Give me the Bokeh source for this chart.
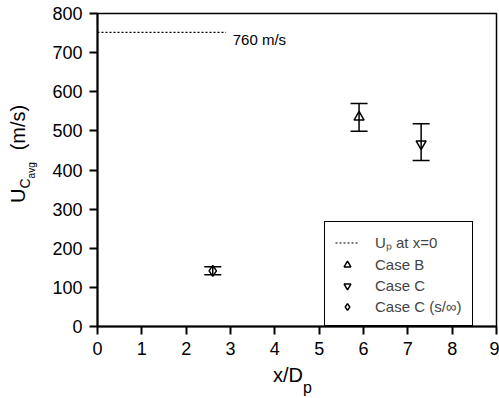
import math
from bokeh.plotting import figure
from bokeh.models import (ColumnDataSource, Whisker, TeeHead, Legend, LegendItem,
                          Label, FixedTicker, Range1d, Div, Row, Column)
from bokeh.embed import file_html
from bokeh.resources import INLINE

# ---- data ----
case_b_x = [5.9]
case_b_y = [535]
case_b_lo = [499]
case_b_hi = [570]

case_c_x = [7.3]
case_c_y = [467]
case_c_lo = [424]
case_c_hi = [518]

case_cs_x = [2.6]
case_cs_y = [142]
case_cs_lo = [132]
case_cs_hi = [153]

up_x = [0.0, 2.9]
up_y = [752, 752]
up_label = "760 m/s"

x_ticks = [0, 1, 2, 3, 4, 5, 6, 7, 8, 9]
y_ticks = [0, 100, 200, 300, 400, 500, 600, 700, 800]

FONT = "Liberation Sans"

p = figure(width=459, height=364, output_backend="svg", toolbar_location=None,
           x_range=Range1d(0, 9), y_range=Range1d(0, 800),
           min_border_left=57, min_border_right=3, min_border_top=13,
           min_border_bottom=38, margin=0)
p.grid.visible = False
p.outline_line_color = "black"
p.outline_line_width = 1.5
p.outline_line_alpha = 1.0
p.background_fill_color = "white"
p.border_fill_color = "white"

for ax in (p.xaxis[0], p.yaxis[0]):
    ax.axis_line_width = 2
    ax.major_tick_line_width = 2
    ax.major_tick_out = 8
    ax.major_tick_in = 0
    ax.minor_tick_line_color = None
    ax.major_label_text_font = FONT
    ax.major_label_text_font_size = "18px"
    ax.major_label_text_color = "black"
    ax.axis_line_color = "black"
    ax.major_tick_line_color = "black"
p.xaxis[0].ticker = FixedTicker(ticks=x_ticks)
p.yaxis[0].ticker = FixedTicker(ticks=y_ticks)
p.xaxis[0].major_label_standoff = 7
p.yaxis[0].major_label_standoff = 7

# reference line
line_r = p.line(up_x, up_y, line_color="black", line_width=1.2, line_dash="2 2")
p.add_layout(Label(x=3.05, y=733, text=up_label, text_font=FONT, text_font_size="15px",
                   text_baseline="middle", text_align="left", text_color="black"))

# error bars
def add_err(xs, lo, hi):
    src = ColumnDataSource(dict(x=xs, lo=lo, hi=hi))
    w = Whisker(base="x", lower="lo", upper="hi", source=src, dimension="height",
                line_color="black", line_width=1.5,
                upper_head=TeeHead(size=17, line_color="black", line_width=1.5),
                lower_head=TeeHead(size=17, line_color="black", line_width=1.5))
    p.add_layout(w)

add_err(case_b_x, case_b_lo, case_b_hi)
add_err(case_c_x, case_c_lo, case_c_hi)
add_err(case_cs_x, case_cs_lo, case_cs_hi)

r_b = p.scatter(case_b_x, case_b_y, marker="triangle", size=10, fill_color=None,
                line_color="black", line_width=1.5)
r_c = p.scatter(case_c_x, case_c_y, marker="inverted_triangle", size=10, fill_color=None,
                line_color="black", line_width=1.5)
r_cs = p.scatter(case_cs_x, case_cs_y, marker="diamond", size=11,
                 fill_color=None, line_color="black", line_width=1.5)

legend = Legend(items=[
    LegendItem(label="U\u209a at x=0", renderers=[line_r]),
    LegendItem(label="Case B", renderers=[r_b]),
    LegendItem(label="Case C", renderers=[r_c]),
    LegendItem(label="Case C (s/\u221e)", renderers=[r_cs]),
], location=(227, 0))
legend.label_text_font = FONT
legend.label_text_font_size = "15px"
legend.label_height = 17
legend.glyph_height = 17
legend.glyph_width = 24
legend.label_standoff = 16
legend.spacing = 4
legend.padding = 10
legend.margin = 0
legend.border_line_color = "black"
legend.border_line_width = 1.5
legend.border_line_alpha = 1.0
legend.background_fill_color = "white"
legend.background_fill_alpha = 1.0
p.add_layout(legend)

# axis titles with sub-/sub-subscripts as HTML text
TXT = "font-family:'Liberation Sans',Arial,sans-serif;color:black;white-space:nowrap;"
y_html = (
    '<div style="position:relative;width:40px;height:364px;">'
    '<div style="position:absolute;left:8px;top:203px;transform:rotate(-90deg);'
    'transform-origin:0 0;font-size:20px;line-height:20px;' + TXT + '">'
    'U<span style="font-size:14px;position:relative;top:5px;">C'
    '<span style="font-size:10px;position:relative;top:5px;">avg</span></span>'
    '<span style="margin-left:12px;">(m/s)</span></div></div>'
)
x_html = (
    '<div style="position:relative;width:499px;height:34px;">'
    '<div style="position:absolute;left:273px;top:1px;font-size:20px;line-height:20px;'
    + TXT + '">x/D<span style="font-size:16px;position:relative;top:11px;">p</span>'
    '</div></div>'
)
ydiv = Div(text=y_html, width=40, height=364, margin=0)
xdiv = Div(text=x_html, width=499, height=34, margin=0)

layout = Column(children=[Row(children=[ydiv, p], spacing=0, margin=0), xdiv],
                spacing=0, margin=0)

open("out.html", "w").write(file_html(layout, INLINE))
